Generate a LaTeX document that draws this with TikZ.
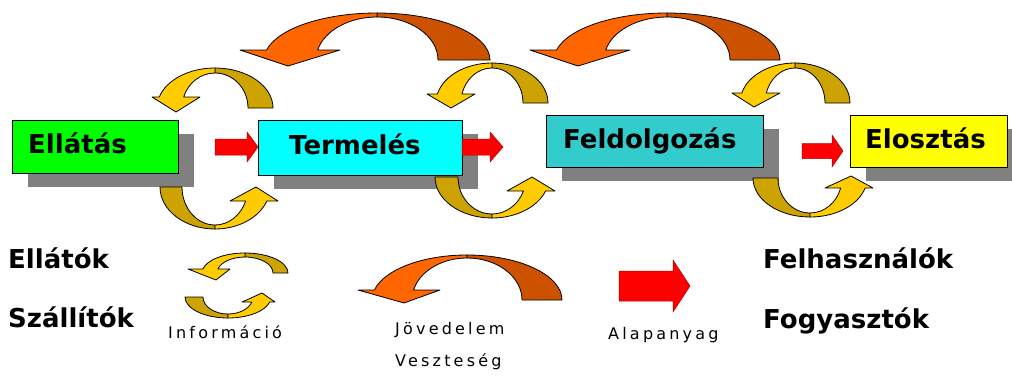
\documentclass[tikz,border=0pt]{standalone}
\usepackage{fontspec}
\setmainfont{DejaVu Sans}
\newfontfamily\smallf[LetterSpace=20]{DejaVu Sans}
\usetikzlibrary{shadows}
\definecolor{ylite}{HTML}{FFCC00}
\definecolor{ydark}{HTML}{CCA300}
\definecolor{olite}{HTML}{FF6600}
\definecolor{odark}{HTML}{CC5200}
\definecolor{shadowgray}{HTML}{808080}
\definecolor{ellcol}{HTML}{00FF00}
\definecolor{tercol}{HTML}{00FFFF}
\definecolor{feldcol}{HTML}{33CCCC}
\definecolor{elocol}{HTML}{FFFF00}
\definecolor{redfill}{HTML}{FF0000}
\tikzset{
  litepart/.style={fill=ylite, draw=black, line width=0.8pt, line join=round},
  darkpart/.style={fill=ydark, draw=black, line width=0.8pt, line join=round},
  orangeset/.style={litepart/.style={fill=olite, draw=black, line width=0.8pt, line join=round},
                    darkpart/.style={fill=odark, draw=black, line width=0.8pt, line join=round}},
  redarrow/.style={fill=redfill, draw=red!70!black, line width=0.5pt},
  stagebox/.style={draw=black, line width=1.1pt, anchor=north west, inner sep=0pt,
    general shadow={fill=shadowgray, shadow xshift=15pt, shadow yshift=-13pt}},
  bigtext/.style={font=\fontsize{26}{30}\selectfont\bfseries, inner sep=0pt, anchor=base west},
  smalltext/.style={font=\smallf\fontsize{16}{19}\selectfont, inner sep=0pt, anchor=base west, text=black}
}
% ribbon arrow over the top: tail right, head left
\newcommand\ribtop[9]{\def\rcx{#1}\def\rcy{#2}\def\rRx{#3}\def\rRy{#4}\def\rrx{#5}\def\rry{#6}\def\rby{#7}\def\rbl{#8}\def\rbr{#9}\ribtopfin}
\newcommand\ribtopfin[1]{%
  \pgfmathsetmacro\tho{-180-asin((\rby-\rcy)/\rRy)}%
  \pgfmathsetmacro\thi{-180-asin((\rby-\rcy)/\rry)}%
  \pgfmathsetmacro\ixe{\rcx+\rrx*cos(\thi)}%
  \pgfmathsetmacro\iye{\rcy+\rry*sin(\thi)}%
  \filldraw[darkpart] (\rcx+\rRx,\rcy) arc[start angle=0,end angle=-90,x radius=\rRx,y radius=\rRy]
     -- (\rcx,\rcy-\rry) arc[start angle=-90,end angle=0,x radius=\rrx,y radius=\rry] -- cycle;
  \filldraw[litepart] (\rcx,\rcy-\rRy) arc[start angle=-90,end angle=\tho,x radius=\rRx,y radius=\rRy]
     -- (\rbl,\rby) -- #1 -- (\rbr,\rby) -- (\ixe,\iye)
     arc[start angle=\thi,end angle=-90,x radius=\rrx,y radius=\rry] -- cycle;
}
% ribbon arrow underneath: tail left, head right
\newcommand\ribbot[9]{\def\rcx{#1}\def\rcy{#2}\def\rRx{#3}\def\rRy{#4}\def\rrx{#5}\def\rry{#6}\def\rby{#7}\def\rbl{#8}\def\rbr{#9}\ribbotfin}
\newcommand\ribbotfin[1]{%
  \pgfmathsetmacro\tho{asin((\rby-\rcy)/\rRy)}%
  \pgfmathsetmacro\thi{asin((\rby-\rcy)/\rry)}%
  \pgfmathsetmacro\ixe{\rcx+\rrx*cos(\thi)}%
  \pgfmathsetmacro\iye{\rcy+\rry*sin(\thi)}%
  \filldraw[darkpart] (\rcx-\rRx,\rcy) arc[start angle=180,end angle=90,x radius=\rRx,y radius=\rRy]
     -- (\rcx,\rcy+\rry) arc[start angle=90,end angle=180,x radius=\rrx,y radius=\rry] -- cycle;
  \filldraw[litepart] (\rcx,\rcy+\rRy) arc[start angle=90,end angle=\tho,x radius=\rRx,y radius=\rRy]
     -- (\rbr,\rby) -- #1 -- (\rbl,\rby) -- (\ixe,\iye)
     arc[start angle=\thi,end angle=90,x radius=\rrx,y radius=\rry] -- cycle;
}
% straight block arrow: x0, head start, tip, centre y, shaft half height, head half height
\newcommand\blockarrow[6]{%
  \filldraw[redarrow] (#1,#4-#5) -- (#2,#4-#5) -- (#2,#4-#6) -- (#3,#4) -- (#2,#4+#6) -- (#2,#4+#5) -- (#1,#4+#5) -- cycle;}

\begin{document}
\begin{tikzpicture}[x=1pt,y=-1pt]
\useasboundingbox (0,0) rectangle (1012,383);
\fill[white] (0,0) rectangle (1012,383);
\clip (0,0) rectangle (1012,383);

% stage boxes
\node[stagebox, fill=ellcol, minimum width=166pt, minimum height=53pt] (ell) at (12,120) {};
\node[stagebox, fill=tercol, minimum width=204pt, minimum height=55pt] (ter) at (258,120) {};
\node[stagebox, fill=feldcol, minimum width=217pt, minimum height=52pt] (fel) at (546,115) {};
\node[stagebox, fill=elocol, minimum width=157pt, minimum height=52pt] (elo) at (850,115) {};

\node[bigtext] (tell) at (28,153) {Ellátás};
\node[bigtext] (tter) at (289,154) {Termelés};
\node[bigtext] (tfel) at (563,148) {Feldolgozás};
\node[bigtext] (telo) at (865,148) {Elosztás};

% red flow arrows
\blockarrow{215}{247}{258}{147}{8}{15}
\blockarrow{462}{490}{503}{147}{8}{15}
\blockarrow{802}{832}{843}{151}{7.5}{16}
\blockarrow{619}{673}{690}{286}{15}{26}

% yellow information loops
\ribtop{215}{108}{58}{40}{33}{35}{97}{152}{200}{(176,112)}
\ribbot{215}{187}{55}{42}{33}{38}{201}{230}{278}{(256,187)}
\ribtop{492}{103}{56}{40}{31}{35}{94}{427}{475}{(451,108)}
\ribbot{492}{177}{57}{41}{34}{37}{191}{507}{555}{(532,177)}
\ribtop{795}{103}{55}{40}{30}{35}{93}{732}{780}{(754,107)}
\ribbot{810}{178}{57}{39}{32}{35}{188}{825}{873}{(851,176)}

% orange income loops
\begin{scope}[orangeset]
\ribtop{377}{60}{113}{47}{61}{43}{50}{240}{340}{(288,66)}
\ribtop{667}{60}{113}{47}{63}{43}{50}{530}{630}{(578,66)}
\ribtop{467}{300}{95}{45}{55}{42}{290}{358}{440}{(404,303)}
\end{scope}

% legend information arrows
\ribtop{245}{273}{43}{20}{28}{16}{269}{188}{230}{(216,280)}
\ribbot{228}{297}{43}{21}{25}{17}{302}{242}{275}{(262,293)}

% labels
\node[bigtext] (lell) at (8,268) {Ellátók};
\node[bigtext] (lsza) at (8,327) {Szállítók};
\node[bigtext] (lfel) at (763,268) {Felhasználók};
\node[bigtext] (lfog) at (763,328) {Fogyasztók};

\node[smalltext] (linf) at (168,338) {Információ};
\node[smalltext] (ljov) at (395,334) {Jövedelem};
\node[smalltext] (lves) at (395,366) {Veszteség};
\node[smalltext] (lala) at (608,339) {Alapanyag};
\end{tikzpicture}
\end{document}
